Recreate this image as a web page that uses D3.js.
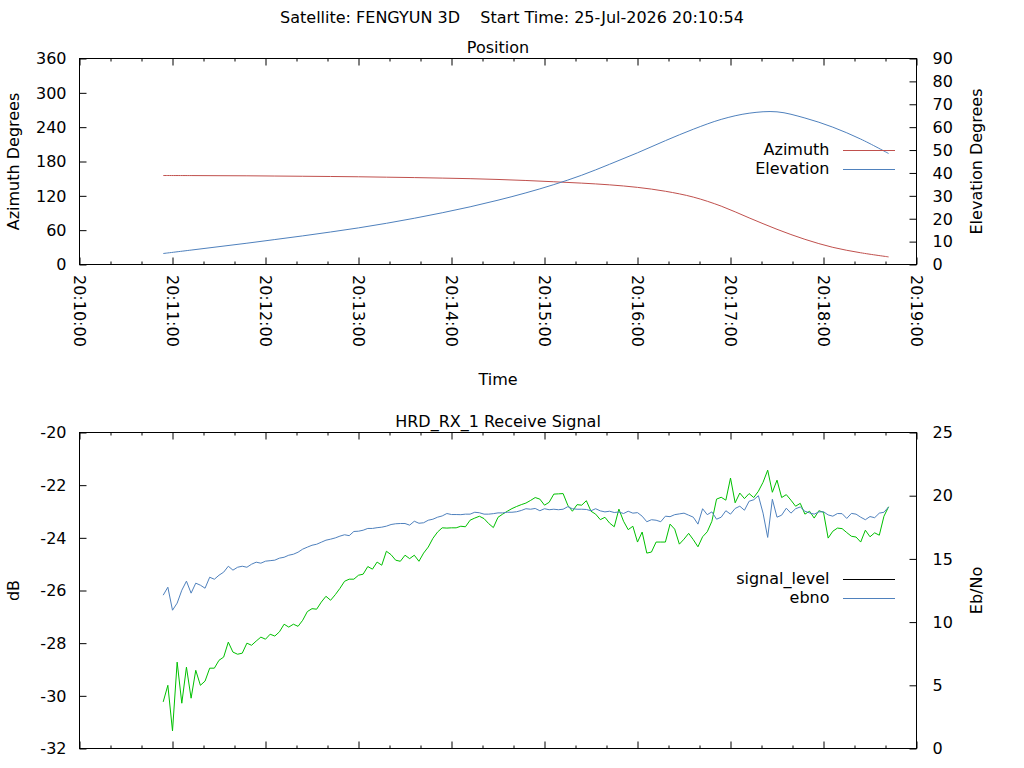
<!DOCTYPE html>
<html>
<head>
<meta charset="utf-8">
<script src="https://cdn.jsdelivr.net/npm/d3@7/dist/d3.min.js"></script>
<style>
  html, body { margin: 0; padding: 0; background: #fff; }
  svg { display: block; }
  text { font-family: "DejaVu Sans", sans-serif; font-size: 16px; fill: #000; }
</style>
</head>
<body>
<svg id="chart" width="1024" height="768"></svg>
<script>
// ---- data ----
const satellite = "FENGYUN 3D"
const startTime = new Date(2026, 6, 25, 20, 10, 54)
const axisStart = new Date(2026, 6, 25, 20, 10, 0)
const axisEnd = new Date(2026, 6, 25, 20, 19, 0)

// position, one sample every 18 s from start time
const posStep = 18
const azimuth = [155.5, 155.4, 155.2, 155.0, 154.6, 154.2, 153.8, 153.3, 152.6, 151.9,
    151.0, 150.0, 148.6, 146.8, 144.6, 142.2, 139.2, 134.8, 128.0, 117.8,
    102.0, 81.5, 61.5, 44.0, 30.0, 20.5, 13.3]
const elevation = [4.8, 6.3, 7.8, 9.3, 10.9, 12.5, 14.2, 16.0, 18.0, 20.2,
    22.6, 25.2, 28.1, 31.3, 34.9, 39.0, 43.8, 48.8, 54.1, 59.1,
    63.4, 66.1, 66.7, 64.0, 60.0, 54.8, 48.5]

// receive signal, one sample every 3 s from start time
const sigStep = 3
const signalLevel = [-30.23, -29.60, -31.33, -28.72, -30.28, -28.91, -30.09, -29.03, -29.60, -29.44,
    -28.95, -28.95, -28.65, -28.53, -27.96, -28.34, -28.42, -28.38, -28.00, -28.08,
    -27.92, -27.77, -27.85, -27.66, -27.73, -27.57, -27.28, -27.39, -27.28, -27.36,
    -27.13, -26.80, -26.69, -26.71, -26.44, -26.22, -26.37, -26.16, -25.92, -25.65,
    -25.57, -25.57, -25.42, -25.38, -25.09, -25.19, -24.92, -25.04, -24.51, -24.64,
    -24.85, -24.89, -24.66, -24.79, -24.66, -24.89, -24.58, -24.35, -24.02, -23.78,
    -23.62, -23.63, -23.62, -23.62, -23.56, -23.58, -23.33, -23.25, -23.18, -23.27,
    -23.46, -23.61, -23.22, -23.10, -22.99, -22.89, -22.81, -22.74, -22.68, -22.58,
    -22.47, -22.53, -22.76, -22.65, -22.34, -22.33, -22.32, -22.76, -22.99, -22.74,
    -22.76, -22.59, -22.99, -23.10, -23.31, -23.22, -23.44, -23.58, -22.91, -23.37,
    -23.69, -23.56, -24.16, -23.78, -24.58, -24.54, -24.16, -24.16, -24.16, -23.48,
    -23.67, -24.24, -24.05, -23.83, -24.07, -24.34, -23.96, -23.77, -23.37, -22.53,
    -22.46, -22.57, -21.73, -22.67, -22.30, -22.51, -22.32, -22.47, -22.23, -21.89,
    -21.43, -22.27, -21.81, -22.47, -22.36, -22.57, -22.80, -22.69, -23.10, -22.99,
    -23.25, -22.97, -23.03, -24.01, -23.75, -23.63, -23.65, -23.80, -23.94, -23.97,
    -24.16, -23.71, -23.96, -23.81, -23.90, -23.18, -22.82]
const ebno = [12.13, 12.76, 10.94, 11.50, 12.52, 13.24, 12.29, 13.08, 12.92, 12.68,
    13.55, 13.39, 13.71, 13.95, 14.42, 14.11, 14.34, 14.42, 14.34, 14.58,
    14.74, 14.66, 14.82, 14.86, 14.90, 15.06, 15.13, 15.29, 15.37, 15.53,
    15.77, 15.93, 16.08, 16.16, 16.32, 16.48, 16.56, 16.66, 16.80, 16.91,
    16.84, 17.17, 17.19, 17.27, 17.41, 17.41, 17.47, 17.51, 17.59, 17.72,
    17.78, 17.80, 17.80, 17.67, 17.98, 17.82, 17.86, 18.06, 18.14, 18.30,
    18.40, 18.59, 18.51, 18.51, 18.50, 18.54, 18.54, 18.69, 18.65, 18.54,
    18.54, 18.58, 18.64, 18.64, 18.69, 18.69, 18.73, 18.83, 18.97, 18.93,
    18.99, 18.81, 18.97, 18.89, 18.93, 18.89, 18.93, 19.13, 18.97, 18.93,
    18.93, 18.91, 18.81, 18.97, 18.80, 18.72, 18.77, 18.67, 18.71, 18.59,
    18.77, 18.62, 18.66, 18.38, 17.94, 18.10, 18.06, 17.94, 18.38, 18.34,
    18.50, 18.56, 18.62, 18.46, 18.30, 17.75, 18.97, 18.50, 18.72, 18.14,
    18.30, 18.81, 18.54, 18.99, 19.17, 18.85, 19.56, 19.68, 20.00, 18.62,
    16.70, 19.72, 18.30, 18.46, 19.01, 18.62, 18.97, 19.11, 18.77, 18.64,
    18.54, 18.72, 18.73, 18.48, 18.38, 18.59, 18.58, 18.20, 18.60, 18.54,
    18.30, 18.10, 18.35, 18.26, 18.62, 18.69, 19.11]

const azTicks = [0, 60, 120, 180, 240, 300, 360]
const elTicks = [0, 10, 20, 30, 40, 50, 60, 70, 80, 90]
const dbTicks = [-32, -30, -28, -26, -24, -22, -20]
const ebnoTicks = [0, 5, 10, 15, 20, 25]

const colors = { azimuth: "#c0504d", elevation: "#4f81bd", signal: "#00c000", ebno: "#4f81bd" }

// ---- layout ----
const svg = d3.select("#chart")
const left = 79.5, right = 916.5
const fmt = d3.timeFormat("%H:%M:%S")
const plain = d => String(d)   // gnuplot style hyphen minus
const sampleTime = (step, i) => new Date(startTime.getTime() + i * step * 1000)

const x = d3.scaleTime().domain([axisStart, axisEnd]).range([left, right])
const majorTicks = d3.timeMinute.every(1).range(axisStart, new Date(axisEnd.getTime() + 1))
const minorTicks = d3.timeSecond.every(20).range(axisStart, axisEnd).filter(d => d.getSeconds() !== 0)

svg.append("text")
    .attr("x", 512).attr("y", 23)
    .attr("text-anchor", "middle")
    .attr("xml:space", "preserve")
    .text("Satellite: " + satellite + "    Start Time: 25-Jul-2026 20:10:54")

const drawPanel = (top, bottom, opts) => {
    const g = svg.append("g")
    const yL = d3.scaleLinear().domain(d3.extent(opts.leftTicks)).range([bottom, top])
    const yR = d3.scaleLinear().domain(d3.extent(opts.rightTicks)).range([bottom, top])

    // x ticks, bottom and mirrored on top
    const xb = g.append("g").attr("transform", "translate(0," + bottom + ")")
        .call(d3.axisBottom(x).tickValues(majorTicks).tickSizeInner(-7).tickSizeOuter(0).tickFormat(fmt))
    g.append("g").attr("transform", "translate(0," + bottom + ")")
        .call(d3.axisBottom(x).tickValues(minorTicks).tickSizeInner(-3).tickSizeOuter(0).tickFormat(""))
    g.append("g").attr("transform", "translate(0," + top + ")")
        .call(d3.axisTop(x).tickValues(majorTicks).tickSizeInner(-7).tickSizeOuter(0).tickFormat(""))
    g.append("g").attr("transform", "translate(0," + top + ")")
        .call(d3.axisTop(x).tickValues(minorTicks).tickSizeInner(-3).tickSizeOuter(0).tickFormat(""))

    xb.selectAll("text")
        .attr("transform", "rotate(90)")
        .attr("x", 10.5).attr("y", 0).attr("dy", "0.36em")
        .style("text-anchor", "start")
        .style("display", opts.showTime ? null : "none")

    const yl = g.append("g").attr("transform", "translate(" + left + ",0)")
        .call(d3.axisLeft(yL).tickValues(opts.leftTicks).tickSizeInner(-7).tickSizeOuter(0).tickPadding(13).tickFormat(plain))
    const yr = g.append("g").attr("transform", "translate(" + right + ",0)")
        .call(d3.axisRight(yR).tickValues(opts.rightTicks).tickSizeInner(-7).tickSizeOuter(0).tickPadding(16).tickFormat(plain))

    g.selectAll(".domain").remove()
    g.selectAll(".tick line").attr("stroke", "#000")
    g.selectAll(".tick text").attr("font-family", "DejaVu Sans").attr("font-size", 16).attr("fill", "#000")
    yl.selectAll("text").attr("dy", "0.33em")
    yr.selectAll("text").attr("dy", "0.33em")

    g.append("rect")
        .attr("x", left).attr("y", top)
        .attr("width", right - left).attr("height", bottom - top)
        .attr("fill", "none").attr("stroke", "#000").attr("stroke-width", 1)

    // titles and axis labels
    const mid = (top + bottom) / 2
    g.append("text").attr("x", (left + right) / 2).attr("y", top - 6)
        .attr("text-anchor", "middle").text(opts.title)
    g.append("text").attr("transform", "translate(18.5," + mid + ") rotate(-90)")
        .attr("text-anchor", "middle").text(opts.leftLabel)
    g.append("text").attr("transform", "translate(982," + mid + ") rotate(-90)")
        .attr("text-anchor", "middle").text(opts.rightLabel)

    // series
    opts.series.forEach(s => {
        const yS = s.axis === "left" ? yL : yR
        const line = d3.line()
            .x((d, i) => x(sampleTime(s.step, i)))
            .y(d => yS(d))
            .curve(s.smooth ? d3.curveCatmullRom.alpha(0.5) : d3.curveLinear)
        g.append("path")
            .datum(s.values)
            .attr("fill", "none")
            .attr("stroke", s.color)
            .attr("stroke-width", 1)
            .attr("d", line)
    })

    // key
    opts.series.forEach((s, i) => {
        const ky = opts.keyY + i * 19
        g.append("text").attr("x", 829.5).attr("y", ky + 5)
            .attr("text-anchor", "end").text(s.name)
        g.append("line")
            .attr("x1", 843).attr("x2", 895)
            .attr("y1", ky + 0.5).attr("y2", ky + 0.5)
            .attr("stroke", s.keyColor || s.color).attr("stroke-width", 1)
    })
}

drawPanel(58.5, 264.5, {
    title: "Position",
    leftLabel: "Azimuth Degrees",
    rightLabel: "Elevation Degrees",
    leftTicks: azTicks,
    rightTicks: elTicks,
    showTime: true,
    keyY: 150,
    series: [
        { name: "Azimuth", values: azimuth, axis: "left", step: posStep, color: colors.azimuth, smooth: true },
        { name: "Elevation", values: elevation, axis: "right", step: posStep, color: colors.elevation, smooth: true }
    ]
})

svg.append("text").attr("x", (left + right) / 2).attr("y", 385)
    .attr("text-anchor", "middle").text("Time")

drawPanel(432.5, 748.5, {
    title: "HRD_RX_1 Receive Signal",
    leftLabel: "dB",
    rightLabel: "Eb/No",
    leftTicks: dbTicks,
    rightTicks: ebnoTicks,
    showTime: false,
    keyY: 579,
    series: [
        { name: "signal_level", values: signalLevel, axis: "left", step: sigStep, color: colors.signal, keyColor: "#000" },
        { name: "ebno", values: ebno, axis: "right", step: sigStep, color: colors.ebno }
    ]
})
</script>
</body>
</html>
